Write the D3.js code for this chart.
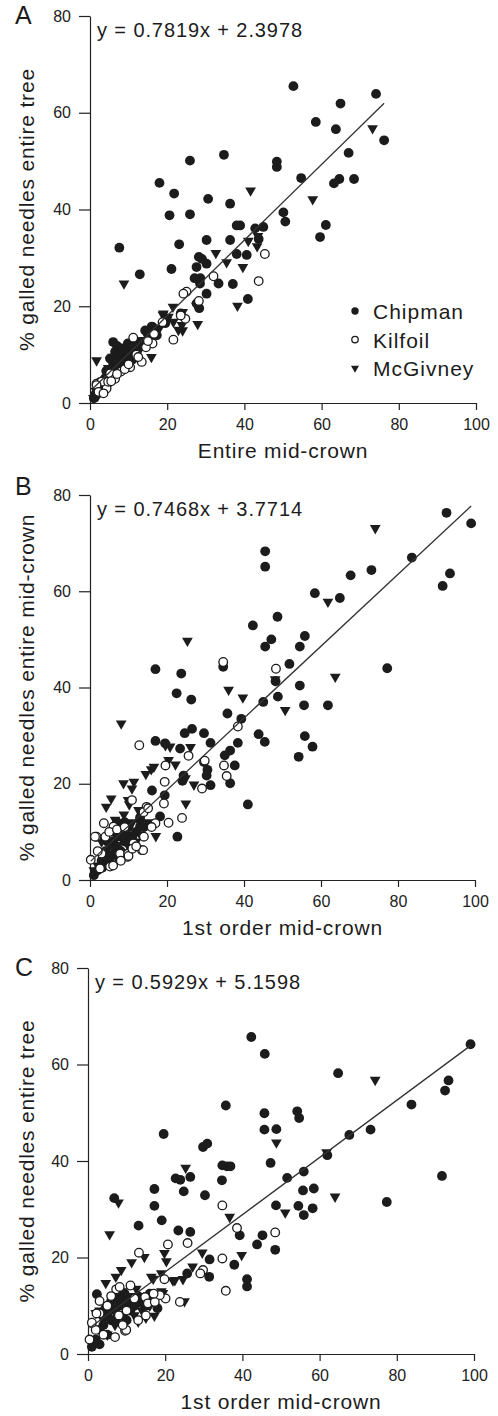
<!DOCTYPE html>
<html>
<head>
<meta charset="utf-8">
<script src="https://d3js.org/d3.v7.min.js"></script>
<style>
    body { margin: 0; background: #fff; }
    svg { display: block; font-family: "Liberation Sans", Arial, sans-serif; }
    .axis path, .axis line { stroke: #222; stroke-width: 1.2; }
    .axis text { font-size: 16px; fill: #222; font-family: "Liberation Sans", Arial, sans-serif; }
</style>
</head>
<body>
<svg id="chart" width="498" height="1416"></svg>
<script>
// tick values
const xTicks = [0, 20, 40, 60, 80, 100];
const yTicks = [0, 20, 40, 60, 80];
const sites = ["Chipman", "Kilfoil", "McGivney"];

// panel A : entire mid-crown (x) vs entire tree (y)
const aChipman = [[52.7,65.5],[74.1,63.9],[64.9,61.9],[58.5,58.1],[63.7,56.6],[76.2,54.3],[67.0,51.7],[48.4,49.9],[48.4,48.8],[34.7,51.3],[25.9,50.1],[54.7,46.5],[64.6,46.3],[63.2,45.4],[68.4,46.3],[18.0,45.5],[21.8,43.3],[30.6,42.2],[36.3,41.2],[20.6,38.8],[25.9,39.0],[50.1,39.4],[50.6,37.5],[61.1,36.8],[59.6,34.3],[38.0,36.7],[38.9,36.7],[42.8,36.1],[44.9,36.4],[43.7,33.9],[30.2,33.7],[36.3,33.7],[23.1,32.8],[7.6,32.1],[28.2,30.2],[29.0,29.8],[30.2,28.8],[27.6,28.1],[21.1,27.7],[38.0,30.8],[40.6,30.6],[12.9,26.6],[27.1,25.8],[28.6,25.8],[28.5,24.7],[33.3,24.7],[37.0,24.6],[30.2,22.6],[40.9,21.5],[28.3,19.6],[27.6,20.6],[6.0,12.6],[16.2,15.7],[14.3,15.0],[11.2,10.9],[8.2,11.3],[9.9,10.6],[7.3,9.6],[9.1,9.2],[10.8,11.3],[12.5,12.0],[6.5,10.6],[5.2,9.2],[7.8,8.5],[3.9,5.1],[3.0,3.0],[1.3,1.7],[5.6,7.2],[17.3,14.0],[16.0,15.8],[19.5,16.5],[23.5,18.5],[8.7,10.0],[10.0,9.5],[4.5,5.5],[6.5,7.5],[7.2,8.8],[8.5,9.8],[9.5,11.5],[10.5,10.2],[11.5,11.8],[12.0,9.8],[13.5,12.5],[6.0,6.2],[5.0,4.3],[2.0,2.5],[1.0,1.0],[8.0,10.5],[9.0,7.8],[7.0,11.8],[9.8,12.3],[11.0,9.0],[6.8,8.0],[4.2,6.6],[2.5,3.8]];
const aKilfoil = [[45.3,30.8],[43.7,25.2],[32.0,26.2],[25.0,23.0],[24.2,22.6],[21.6,13.1],[24.7,17.4],[23.5,18.1],[11.2,13.5],[16.6,14.3],[16.2,12.3],[18.8,16.7],[10.4,7.4],[2.6,4.3],[4.3,3.0],[1.7,4.0],[5.2,6.1],[28.2,21.1],[3.0,4.4],[1.7,3.7],[2.2,2.3],[4.7,4.4],[13.4,8.5],[8.0,6.5],[6.5,5.0],[12.0,10.0],[14.5,11.5],[3.5,2.0],[5.5,4.5],[7.0,6.0],[9.0,7.0],[10.0,8.0],[12.5,9.5],[15.0,12.8]];
const aMcGivney = [[73.2,56.8],[41.6,43.9],[57.7,42.1],[32.6,31.0],[35.4,29.1],[39.6,28.1],[43.3,32.4],[8.8,24.7],[38.2,20.1],[27.9,16.3],[1.7,8.8],[15.9,9.5],[24.0,18.8],[21.5,19.9],[18.9,18.2],[24.0,15.0],[27.6,20.1],[5.2,8.8],[19.9,17.1],[19.0,18.5],[20.3,17.8],[21.6,16.8],[23.8,16.1],[22.9,15.1],[0.9,1.0],[2.6,2.3],[6.9,6.5],[4.7,7.2],[10.0,9.0],[12.0,11.0],[14.0,12.0],[8.0,7.5],[17.0,15.0],[41.0,33.5],[43.5,34.5],[3.0,3.5],[4.0,4.8],[6.0,6.8],[7.5,9.5],[9.5,8.5],[11.0,10.5],[13.0,11.2],[15.0,13.5],[16.5,14.0],[18.0,15.5],[2.0,1.5],[1.5,2.5],[8.5,11.0],[10.5,12.0],[12.8,13.0]];

// panel B : 1st order mid-crown (x) vs entire mid-crown (y)
const bChipman = [[92.6,76.3],[99.0,74.1],[83.6,67.0],[73.1,64.4],[67.7,63.3],[91.6,61.1],[93.5,63.7],[58.4,59.6],[64.9,58.6],[45.5,68.3],[45.5,65.1],[42.3,52.9],[48.7,54.7],[47.1,50.0],[45.5,48.5],[55.8,50.7],[54.5,48.5],[51.8,44.9],[77.2,44.0],[17.0,43.8],[23.7,42.9],[34.6,44.3],[54.5,40.4],[48.2,41.3],[22.5,38.8],[26.3,37.5],[48.8,38.1],[45.0,37.0],[55.6,36.3],[61.8,36.3],[35.7,34.6],[39.3,33.5],[26.5,31.4],[24.6,30.5],[29.6,30.5],[43.8,30.3],[45.4,28.7],[17.0,28.9],[31.3,28.5],[38.4,28.5],[55.8,29.9],[57.8,27.7],[54.2,25.6],[23.4,27.3],[36.4,26.9],[35.0,25.9],[37.6,23.8],[29.6,24.5],[30.5,22.9],[30.3,21.7],[31.3,19.7],[36.4,20.1],[24.3,21.7],[24.0,20.6],[41.0,15.7],[19.4,17.6],[16.1,18.6],[22.7,9.0],[18.2,13.2],[13.0,12.5],[19.5,28.4],[13.0,11.1],[3,4],[4,6],[5,5],[6,8],[7,7],[8,9],[9,8],[10,11],[11,9],[6,10],[7,12],[8,6],[12,10],[14,11],[2,2],[1,1],[3,2.5],[5,3.5],[9,12],[13,13],[6.5,6.0],[8.5,10.5],[10.5,8.5],[4.5,8.0],[7.5,4.5]];
const bKilfoil = [[34.6,45.3],[48.3,43.9],[12.8,28.0],[38.4,31.9],[25.6,25.8],[34.8,23.8],[35.5,21.6],[29.8,24.8],[29.1,19.0],[19.6,23.8],[19.4,20.4],[10.9,16.6],[14.7,15.2],[13.9,14.1],[19.2,15.9],[20.4,11.9],[23.9,12.9],[17.0,11.8],[1.7,9.0],[0.2,4.2],[9.7,4.8],[5.2,2.8],[13.5,6.2],[2.6,2.4],[3.6,11.8],[6.1,11.1],[7.8,5.5],[11.3,7.6],[15.1,14.9],[13.8,6.2],[9.9,5.5],[1.3,9.0],[4,9],[5,10],[7,10.5],[8,4],[6,3],[10,5],[11,6.5],[12,7],[3,5.5],[2,6],[9,11],[14,9],[16,11]];
const bMcGivney = [[74.1,73.1],[61.8,57.8],[63.7,42.2],[50.7,35.3],[25.3,49.7],[36.0,39.5],[39.7,37.9],[8.1,32.5],[19.6,28.0],[20.8,27.7],[26.1,27.6],[22.2,24.0],[20.4,24.9],[15.9,23.0],[14.5,22.0],[16.6,23.5],[8.7,20.1],[11.4,20.4],[10.9,19.0],[5.5,16.9],[4.2,15.2],[10.2,15.7],[24.9,15.9],[27.0,19.8],[24.8,21.1],[17.1,9.1],[48.1,41.7],[12.6,14.5],[8.8,13.6],[9.9,16.6],[2,3],[4,3],[6,5],[7,9],[8,11],[10,7],[11,12],[12,8],[13,9.5],[5,7],[3,8],[15,12],[1,2],[6.5,12.5],[9.5,9.5]];

// panel C : 1st order mid-crown (x) vs entire tree (y)
const cChipman = [[42.3,65.7],[45.8,62.2],[99.1,64.2],[64.8,58.2],[93.4,56.7],[92.5,54.6],[83.8,51.7],[35.7,51.5],[45.7,49.9],[54.2,50.3],[54.7,48.9],[19.6,45.6],[45.7,46.5],[48.8,46.6],[67.7,45.4],[73.2,46.5],[29.8,42.9],[30.9,43.6],[47.3,39.6],[34.8,39.1],[36.0,38.9],[36.9,38.9],[62.0,41.2],[91.7,36.9],[51.6,36.5],[55.9,37.8],[22.7,36.4],[23.9,36.1],[26.5,36.7],[34.7,36.0],[24.8,33.7],[17.2,34.2],[30.3,32.9],[55.7,33.9],[58.5,34.3],[77.4,31.5],[17.2,30.7],[48.7,30.8],[54.5,30.7],[58.2,30.2],[55.9,28.8],[6.8,32.3],[19.1,27.7],[13.1,26.6],[23.4,25.6],[26.5,25.3],[39.3,24.6],[45.2,24.6],[43.8,22.7],[48.5,21.6],[31.5,19.6],[37.9,18.5],[25.7,16.7],[31.4,16.0],[41.2,15.5],[41.2,14.0],[2.3,12.4],[2,3],[3,5],[4,6],[5,8],[6,7],[7,9],[8,10],[9,8],[10,11],[11,9],[12,10],[6,11],[8,12],[13,12],[1,1.5],[3,2],[5,4],[15,10],[17,11],[10,7],[4.5,9.5],[7.5,7.5],[9.5,12.5],[14,10.5],[16,12.5],[18,9.5]];
const cKilfoil = [[34.8,30.8],[38.6,26.1],[48.5,25.2],[25.8,23.0],[20.7,22.7],[13.2,21.0],[34.8,19.8],[29.8,17.4],[29.1,16.7],[35.7,13.1],[19.8,15.5],[20.1,11.5],[23.8,10.8],[11.0,14.2],[14.8,11.8],[9.6,4.8],[0.4,3.0],[3.0,8.4],[7.3,13.4],[8.2,13.9],[18.6,12.2],[15.5,10.5],[17.3,10.8],[9.9,5.0],[2.2,8.4],[2,5],[4,4],[5,10],[6,12],[8,8],[9,6],[10,9],[12,11.5],[13,7],[15,8],[17,12.5],[1,6.5],[3,11],[7,3.5]];
const cMcGivney = [[74.4,56.8],[48.8,43.8],[61.8,41.8],[64.0,32.6],[51.1,29.3],[25.3,38.6],[7.9,31.4],[5.6,24.8],[36.7,28.4],[29.6,21.0],[39.8,20.5],[27.1,18.1],[19.8,20.9],[20.3,19.2],[14.6,20.1],[11.3,19.0],[8.6,17.4],[7.2,16.0],[4.6,14.7],[22.0,15.2],[24.6,15.5],[25.0,10.9],[17.2,7.9],[16.9,15.6],[16.4,16.0],[19.0,16.7],[22.5,15.3],[19.4,12.6],[13.0,6.7],[2,8.5],[3,9],[4,7],[6,9.5],[8,11],[9,13],[11,12],[12,8],[14,9],[16,10],[18,12],[19,13],[5,4],[7,6],[10,10],[12.5,13.5],[15,7.5]];

// regression coefficients shown on each panel [slope, intercept]
const fitA = [0.7819, 2.3978];
const fitB = [0.7468, 3.7714];
const fitC = [0.5929, 5.1598];

const panels = [
    { letter: "A", fit: fitA, xTitle: "Entire mid-crown", yTitle: "% galled needles entire tree",
      series: [aChipman, aKilfoil, aMcGivney], left: 90, right: 476, top: 16, bottom: 403, letterY: 24, legend: true },
    { letter: "B", fit: fitB, xTitle: "1st order mid-crown", yTitle: "% galled needles entire mid-crown",
      series: [bChipman, bKilfoil, bMcGivney], left: 90, right: 475, top: 495, bottom: 880, letterY: 495, legend: false },
    { letter: "C", fit: fitC, xTitle: "1st order mid-crown", yTitle: "% galled needles entire tree",
      series: [cChipman, cKilfoil, cMcGivney], left: 88, right: 474, top: 968, bottom: 1354, letterY: 976, legend: false }
];

const svg = d3.select("#chart");
const ink = "#1c1c1c";

// draw one marker for a site
function marker(g, site, cx, cy, small) {
    const k = small ? 0.75 : 1;
    if (site === "Chipman") {
        g.append("circle").attr("cx", cx).attr("cy", cy).attr("r", 4.9 * k).attr("fill", ink);
    } else if (site === "Kilfoil") {
        g.append("circle").attr("cx", cx).attr("cy", cy).attr("r", 4.3 * k)
            .attr("fill", "#fff").attr("stroke", ink).attr("stroke-width", 1.3);
    } else {
        g.append("path")
            .attr("d", d3.symbol(d3.symbolTriangle, 50 * k * k)())
            .attr("transform", `translate(${cx},${cy}) rotate(180)`)
            .attr("fill", ink);
    }
}

panels.forEach(p => {
    const x = d3.scaleLinear().domain([0, 100]).range([p.left, p.right]);
    const y = d3.scaleLinear().domain([0, 80]).range([p.bottom, p.top]);
    const g = svg.append("g");

    // axes
    g.append("g").attr("class", "axis")
        .attr("transform", `translate(0,${p.bottom})`)
        .call(d3.axisBottom(x).tickValues(xTicks).tickSize(7).tickPadding(9).tickSizeOuter(0));
    g.append("g").attr("class", "axis")
        .attr("transform", `translate(${p.left},0)`)
        .call(d3.axisLeft(y).tickValues(yTicks).tickSize(11).tickPadding(8).tickSizeOuter(0));

    // points
    const pts = g.append("g");
    [0, 2, 1].forEach(i => {
        p.series[i].forEach(d => marker(pts, sites[i], x(d[0]), y(d[1]), false));
    });

    // regression line
    const allX = p.series.flat().map(d => d[0]);
    const [x0, x1] = d3.extent(allX);
    g.append("line")
        .attr("x1", x(x0)).attr("y1", y(p.fit[0] * x0 + p.fit[1]))
        .attr("x2", x(x1)).attr("y2", y(p.fit[0] * x1 + p.fit[1]))
        .attr("stroke", "#333").attr("stroke-width", 1.3);

    // equation
    g.append("text")
        .attr("x", p.left + 7).attr("y", p.top + 21)
        .style("font-size", "20px").style("letter-spacing", "0.9px").attr("fill", ink)
        .text(`y = ${p.fit[0].toFixed(4)}x + ${p.fit[1].toFixed(4)}`);

    // axis titles
    g.append("text")
        .attr("x", (p.left + p.right) / 2).attr("y", p.bottom + 55)
        .attr("text-anchor", "middle")
        .style("font-size", "21px").style("letter-spacing", "0.8px").attr("fill", ink)
        .text(p.xTitle);
    g.append("text")
        .attr("transform", `translate(34,${(p.top + p.bottom) / 2}) rotate(-90)`)
        .attr("text-anchor", "middle")
        .style("font-size", "21px").style("letter-spacing", "0.8px").attr("fill", ink)
        .text(p.yTitle);

    // panel letter
    g.append("text")
        .attr("x", 15).attr("y", p.letterY)
        .style("font-size", "25px").attr("fill", ink)
        .text(p.letter);

    // legend (panel A only)
    if (p.legend) {
        const lg = g.append("g");
        sites.forEach((s, i) => {
            const ly = 311 + i * 28.5;
            marker(lg, s, 355, ly, true);
            lg.append("text")
                .attr("x", 373).attr("y", ly + 8)
                .style("font-size", "21px").style("letter-spacing", "1px").attr("fill", ink)
                .text(s);
        });
    }
});
</script>
</body>
</html>
